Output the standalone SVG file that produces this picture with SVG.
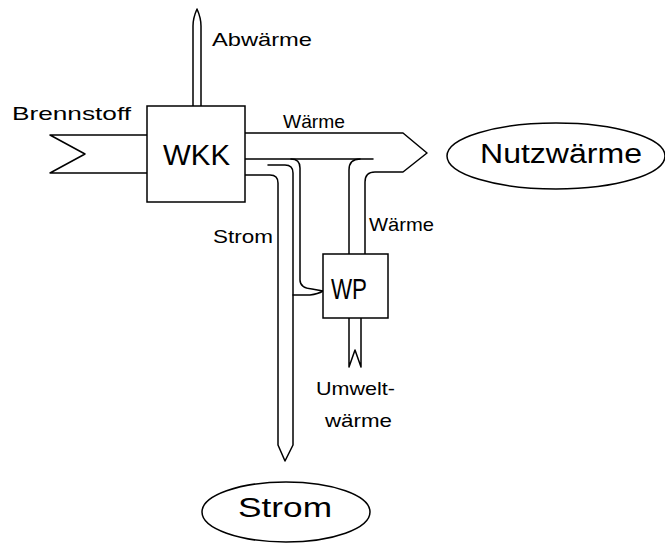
<svg xmlns="http://www.w3.org/2000/svg" width="665" height="547" viewBox="0 0 665 547">
  <style>
    .ln { fill: none; stroke: #000; stroke-width: 1.5; stroke-linejoin: round; stroke-linecap: round; }
    .box { fill: #fff; stroke: #000; stroke-width: 1.5; }
    .lbl { font-family: "Liberation Sans", Arial, sans-serif; font-size: 19px; fill: #000; }
    .big { font-family: "Liberation Sans", Arial, sans-serif; font-size: 30px; fill: #000; }
    .ell { font-family: "Liberation Sans", Arial, sans-serif; font-size: 27px; fill: #000; }
  </style>
  <rect width="665" height="547" fill="#fff"/>

  <!-- energy flows -->
  <g id="connectors">
    <!-- fuel input -->
    <path class="ln" d="M147,135 H50 L85,154 L50,173 H147"/>
    <!-- waste heat up -->
    <path class="ln" d="M193,106 V26 Q193,18 197,9 Q201,18 201,26 V106"/>
    <!-- useful heat out (outer contour incl. heat pump share) -->
    <path class="ln" d="M245,133 H403 L427,153 L403,172 H375 Q365,172 365,182 V254"/>
    <!-- lower edge of CHP heat share -->
    <path class="ln" d="M245,159 H373"/>
    <!-- heat pump heat share, left edge -->
    <path class="ln" d="M349,254 V170 Q349,159 360,159"/>
    <!-- electricity branch to heat pump -->
    <path class="ln" d="M291,159 Q300,159 300,168 V280 Q300,288 312,289 L323,291"/>
    <path class="ln" d="M293,295 H310 Q318,294 323,291"/>
    <!-- electricity down to grid -->
    <path class="ln" d="M245,175 H270 Q278,175 278,183 V445 L285,461 L293,445 V173 Q293,165 285,165 H268"/>
    <!-- ambient heat into heat pump -->
    <path class="ln" d="M349,318 V367 L355,350 L361,367 V318"/>
  </g>

  <g id="wkk">
    <rect class="box" x="147" y="106" width="98" height="96"/>
    <text class="big" x="163" y="165" textLength="67" lengthAdjust="spacingAndGlyphs">WKK</text>
  </g>

  <g id="wp">
    <rect class="box" x="323" y="254" width="65" height="64"/>
    <text class="big" x="331" y="299" textLength="36" lengthAdjust="spacingAndGlyphs">WP</text>
  </g>

  <g id="nutzwaerme">
    <ellipse class="ln" cx="556" cy="156" rx="109" ry="33"/>
    <text class="ell" x="480" y="163" textLength="162" lengthAdjust="spacingAndGlyphs">Nutzwärme</text>
  </g>

  <g id="strom">
    <ellipse class="ln" cx="286" cy="512" rx="84" ry="30"/>
    <text class="ell" x="238" y="517" textLength="94" lengthAdjust="spacingAndGlyphs">Strom</text>
  </g>

  <!-- flow labels -->
  <g id="labels">
    <text class="lbl" x="12" y="120" textLength="119" lengthAdjust="spacingAndGlyphs">Brennstoff</text>
    <text class="lbl" x="212" y="46" textLength="100" lengthAdjust="spacingAndGlyphs">Abwärme</text>
    <text class="lbl" x="283" y="128" textLength="62" lengthAdjust="spacingAndGlyphs">Wärme</text>
    <text class="lbl" x="369" y="231" textLength="65" lengthAdjust="spacingAndGlyphs">Wärme</text>
    <text class="lbl" x="213" y="243" textLength="60" lengthAdjust="spacingAndGlyphs">Strom</text>
    <text class="lbl" x="316" y="395" textLength="79" lengthAdjust="spacingAndGlyphs">Umwelt-</text>
    <text class="lbl" x="325" y="427" textLength="67" lengthAdjust="spacingAndGlyphs">wärme</text>
  </g>
</svg>
